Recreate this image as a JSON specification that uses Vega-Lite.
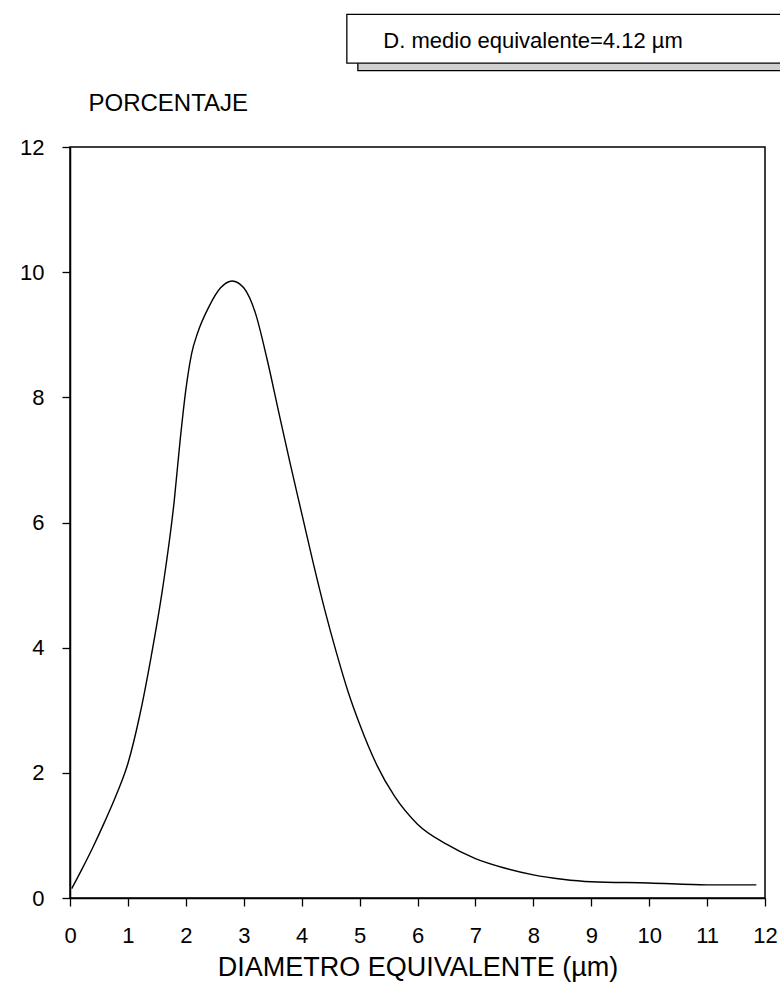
{
  "$schema": "https://vega.github.io/schema/vega-lite/v6.json",
  "width": 695,
  "height": 751,
  "autosize": {"type": "none"},
  "padding": {"left": 70, "top": 147, "right": 15, "bottom": 91},
  "background": "white",
  "config": {
    "view": {"stroke": "black", "strokeWidth": 1.5},
    "font": "Liberation Sans",
    "axis": {
      "grid": false,
      "domainColor": "black",
      "domainWidth": 1.5,
      "tickColor": "black",
      "tickWidth": 1.3,
      "tickSize": 8,
      "labelColor": "black",
      "titleColor": "black",
      "labelFont": "Liberation Sans",
      "titleFont": "Liberation Sans",
      "labelFontSize": 22,
      "titleFontSize": 27,
      "titleFontWeight": "normal"
    }
  },
  "encoding": {
    "x": {
      "field": "d", "type": "quantitative",
      "scale": {"domain": [0, 12], "nice": false, "zero": false},
      "axis": {
        "title": "DIAMETRO EQUIVALENTE (µm)",
        "values": [0, 1, 2, 3, 4, 5, 6, 7, 8, 9, 10, 11, 12],
        "labelPadding": 19,
        "titlePadding": 8,
        "labelFlush": false
      }
    },
    "y": {
      "field": "p", "type": "quantitative",
      "scale": {"domain": [0, 12], "nice": false, "zero": false},
      "axis": {
        "title": "PORCENTAJE",
        "values": [0, 2, 4, 6, 8, 10, 12],
        "labelPadding": 18,
        "titleAngle": 0,
        "titleAlign": "left",
        "titleBaseline": "alphabetic",
        "titleX": 18,
        "titleY": -37,
        "titleFontSize": 24
      }
    }
  },
  "layer": [
    {
      "data": {
        "values": [
          {"d": 0.03, "p": 0.15},
          {"d": 0.2, "p": 0.45},
          {"d": 0.4, "p": 0.82},
          {"d": 0.6, "p": 1.22},
          {"d": 0.8, "p": 1.65},
          {"d": 1.0, "p": 2.15},
          {"d": 1.2, "p": 2.9},
          {"d": 1.4, "p": 3.85},
          {"d": 1.6, "p": 4.95},
          {"d": 1.8, "p": 6.35},
          {"d": 1.9, "p": 7.3},
          {"d": 2.0, "p": 8.12},
          {"d": 2.1, "p": 8.7},
          {"d": 2.2, "p": 9.02},
          {"d": 2.4, "p": 9.45},
          {"d": 2.6, "p": 9.75},
          {"d": 2.8, "p": 9.86},
          {"d": 3.0, "p": 9.75},
          {"d": 3.2, "p": 9.35},
          {"d": 3.4, "p": 8.62},
          {"d": 3.6, "p": 7.78},
          {"d": 3.8, "p": 6.95},
          {"d": 4.0, "p": 6.15},
          {"d": 4.2, "p": 5.35},
          {"d": 4.4, "p": 4.6},
          {"d": 4.6, "p": 3.92},
          {"d": 4.8, "p": 3.3},
          {"d": 5.0, "p": 2.78},
          {"d": 5.3, "p": 2.12},
          {"d": 5.6, "p": 1.63},
          {"d": 6.0, "p": 1.18},
          {"d": 6.5, "p": 0.86},
          {"d": 7.0, "p": 0.63},
          {"d": 7.5, "p": 0.48},
          {"d": 8.0, "p": 0.37},
          {"d": 8.5, "p": 0.3},
          {"d": 9.0, "p": 0.26},
          {"d": 10.0, "p": 0.24},
          {"d": 11.0, "p": 0.21},
          {"d": 11.85, "p": 0.21}
        ]
      },
      "mark": {"type": "line", "color": "black", "strokeWidth": 1.4, "interpolate": "monotone"}
    },
    {
      "data": {
        "values": [
          {"part": "shade", "d": 4.97, "d2": 12.3, "p": 13.22, "p2": 13.36},
          {"part": "box", "d": 4.78, "d2": 12.3, "p": 13.34, "p2": 14.12}
        ]
      },
      "mark": {"type": "rect", "stroke": "black", "strokeWidth": 1.3},
      "encoding": {
        "x2": {"field": "d2"},
        "y2": {"field": "p2"},
        "fill": {
          "field": "part", "type": "nominal",
          "scale": {"domain": ["shade", "box"], "range": ["#d0d0d0", "white"]},
          "legend": null
        }
      }
    },
    {
      "data": {"values": [{"d": 5.41, "p": 13.58, "label": "D. medio equivalente=4.12 µm"}]},
      "mark": {"type": "text", "align": "left", "baseline": "alphabetic", "fontSize": 22, "font": "Liberation Sans", "color": "black"},
      "encoding": {
        "text": {"field": "label"}
      }
    }
  ]
}
